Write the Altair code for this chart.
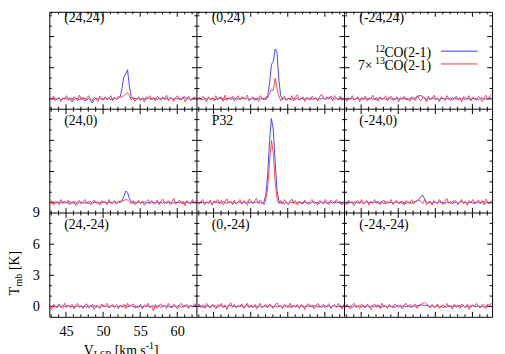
import altair as alt
import pandas as pd

# ---------------- data ----------------
V0 = 42.8     # first channel velocity (km/s)
DV = 0.25     # channel width (km/s)

panel_names = ["(24,24)", "(0,24)", "(-24,24)",
               "(24,0)", "P32", "(-24,0)",
               "(24,-24)", "(0,-24)", "(-24,-24)"]

co12_24_24 = [0.05,-0.08,0.1,0.02,-0.05,0.08,-0.1,0.0,0.06,-0.04,
              0.1,-0.06,0.03,-0.1,0.05,0.0,-0.08,0.07,-0.03,0.04,
              -0.1,0.02,-0.15,-0.4,-0.12,0.05,-0.02,0.08,-0.06,0.03,
              0.1,-0.04,0.06,-0.08,0.02,0.12,-0.03,0.05,0.2,1.0,
              2.1,2.4,2.8,1.2,0.2,-0.05,0.08,-0.06,0.03,-0.1,
              0.05,0.0,-0.07,0.1,-0.04,0.06,-0.02,0.08,-0.1,0.04,
              0.0,0.1,-0.06,0.05,-0.08,0.12,0.03,-0.05,0.07,-0.02,
              0.06,-0.1,0.1,0.2,-0.04,0.08,-0.12,0.05,-0.03,0.06]
co13_24_24 = [0.2,-0.1,0.25,-0.2,0.0,0.15,-0.25,0.1,-0.05,0.3,
              -0.15,0.1,-0.3,0.2,0.05,-0.2,0.35,-0.1,0.15,-0.25,
              0.1,0.3,-0.05,-0.2,0.15,0.0,-0.3,0.25,0.1,-0.15,
              0.2,-0.1,0.05,0.3,-0.2,0.1,-0.05,0.25,0.1,0.2,
              0.3,0.45,0.6,0.3,-0.1,0.15,-0.25,0.05,0.2,-0.15,
              0.1,-0.3,0.2,0.0,0.3,-0.1,0.15,-0.2,0.25,0.05,
              -0.15,0.2,-0.05,0.35,-0.2,0.1,0.0,-0.25,0.15,0.3,
              -0.1,0.05,0.2,-0.3,0.1,0.25,-0.15,0.0,0.2,-0.05]

co12_0_24 = [-0.05,0.08,0.02,-0.1,0.06,-0.03,0.1,-0.07,0.04,0.0,
             -0.08,0.05,0.1,-0.04,0.07,-0.1,0.03,0.06,-0.05,0.02,
             0.08,-0.06,0.04,-0.1,0.05,0.1,-0.03,0.06,-0.08,0.03,
             -0.02,0.07,-0.05,0.1,-0.06,0.04,0.02,-0.08,0.3,1.5,
             3.3,3.6,4.8,4.5,1.8,0.3,-0.05,0.06,-0.1,0.04,
             0.02,-0.07,0.08,-0.03,0.05,-0.1,0.06,0.0,-0.05,0.08,
             -0.04,0.1,-0.06,0.03,0.07,-0.08,0.05,-0.02,0.09,-0.05,
             0.04,0.12,0.25,0.1,-0.04,0.06,-0.08,0.03,0.1,-0.06]
co13_0_24 = [-0.2,0.15,-0.1,0.25,0.0,-0.3,0.2,-0.05,0.1,-0.2,
             0.3,-0.1,0.05,0.2,-0.25,0.35,-0.15,0.1,0.0,0.25,
             -0.2,0.1,0.3,-0.1,0.2,-0.05,0.15,0.35,-0.2,0.05,
             0.2,-0.15,0.1,-0.25,0.3,0.0,-0.1,0.2,0.1,0.5,
             0.9,0.8,2.0,1.0,0.3,-0.2,0.1,0.25,-0.15,0.05,
             -0.1,0.3,-0.2,0.15,0.4,-0.1,0.0,0.2,-0.25,0.1,
             0.05,-0.15,0.25,-0.05,0.1,-0.2,0.2,0.45,0.1,-0.1,
             0.2,-0.05,0.15,-0.2,0.3,0.05,-0.1,0.25,-0.15,0.1]

co12_m24_24 = [0.03,-0.06,0.08,-0.02,0.05,-0.09,0.04,0.07,-0.05,0.02,
               -0.08,0.06,0.0,-0.04,0.1,-0.06,0.03,-0.1,0.05,0.08,
               -0.03,0.06,-0.07,0.02,0.09,-0.05,0.04,-0.08,0.06,0.01,
               -0.06,0.08,-0.02,0.05,-0.1,0.06,0.02,-0.04,0.1,0.2,
               0.3,0.32,0.2,0.08,-0.05,0.06,-0.08,0.03,0.07,-0.04,
               0.05,-0.09,0.02,0.07,-0.06,0.04,-0.02,0.08,-0.07,0.03,
               0.0,-0.05,0.09,-0.03,0.06,-0.08,0.04,0.02,-0.06,0.07,
               -0.02,0.05,-0.09,0.04,0.08,-0.05,0.02,-0.07,0.06,0.1]
co13_m24_24 = [0.15,-0.25,0.1,-0.05,0.3,-0.15,0.05,0.2,-0.3,0.1,
               0.0,0.25,-0.2,0.1,-0.05,0.35,-0.1,0.15,-0.25,0.2,
               -0.1,0.05,0.3,-0.2,0.1,0.25,-0.15,0.0,0.2,-0.3,
               0.15,-0.05,0.25,-0.1,0.05,-0.25,0.2,0.1,-0.15,0.3,
               0.0,-0.2,0.15,0.1,-0.3,0.25,-0.05,0.1,0.35,-0.1,
               0.05,-0.25,0.2,0.0,-0.15,0.3,0.1,-0.2,0.15,-0.05,
               0.25,-0.1,0.05,-0.3,0.2,0.1,-0.05,0.3,-0.2,0.15,
               0.0,-0.15,0.25,0.1,-0.25,0.05,0.35,-0.1,0.2,0.4]

co12_24_0 = [0.06,-0.04,0.09,-0.08,0.02,0.05,-0.06,0.1,-0.03,0.04,
             -0.07,0.08,0.0,-0.05,0.06,-0.1,0.04,0.07,-0.02,-0.06,
             0.05,-0.08,0.1,-0.03,0.02,0.06,-0.09,0.04,-0.05,0.08,
             0.0,-0.06,0.07,0.03,-0.08,0.05,-0.02,0.09,0.1,0.2,
             0.6,1.1,1.0,0.4,0.05,-0.06,0.08,-0.03,0.05,-0.08,
             0.03,0.07,-0.05,0.02,-0.09,0.06,0.04,-0.06,0.08,-0.02,
             0.05,-0.07,0.1,-0.04,0.02,0.06,-0.08,0.03,-0.05,0.09,
             -0.03,0.06,-0.1,0.04,0.07,-0.05,0.02,0.08,-0.06,0.03]
co13_24_0 = [-0.1,0.2,-0.25,0.1,0.05,-0.2,0.3,-0.1,0.15,-0.05,
             0.25,-0.2,0.0,0.15,-0.3,0.1,0.2,-0.15,0.05,0.3,
             -0.1,0.15,-0.2,0.05,0.25,-0.05,0.1,-0.25,0.2,0.0,
             0.1,-0.2,0.3,-0.1,0.05,0.2,-0.15,0.1,0.0,0.15,
             0.2,0.3,0.25,0.1,-0.1,0.2,-0.2,0.05,0.25,-0.1,
             0.15,-0.25,0.1,0.3,-0.05,0.2,-0.15,0.0,0.25,-0.2,
             0.1,0.35,-0.1,0.05,0.2,-0.2,0.1,0.4,-0.15,0.05,
             0.25,-0.1,0.15,-0.3,0.2,0.05,-0.15,0.3,0.0,0.2]

co12_p32 = [0.04,-0.07,0.1,0.02,-0.05,0.08,-0.03,0.06,-0.09,0.03,
            0.07,-0.04,0.05,-0.08,0.1,0.0,-0.06,0.04,0.08,-0.05,
            0.02,-0.1,0.06,0.03,-0.07,0.05,-0.02,0.09,-0.04,0.06,
            -0.08,0.03,0.07,-0.05,0.02,-0.1,0.1,0.8,2.8,6.0,
            8.1,7.0,4.0,1.2,0.2,-0.06,0.05,-0.1,0.03,-0.08,
            0.06,-0.03,0.08,-0.07,0.02,0.05,-0.09,0.04,0.07,-0.05,
            0.03,-0.08,0.06,0.1,-0.04,0.02,-0.06,0.08,-0.03,0.05,
            -0.1,0.07,0.02,-0.05,0.09,-0.04,0.06,-0.08,0.03,0.05]
co13_p32 = [0.2,-0.15,0.1,0.3,-0.2,0.05,-0.1,0.25,-0.25,0.15,
            0.0,0.3,-0.1,0.2,-0.2,0.1,0.35,-0.05,0.15,-0.2,
            0.25,-0.1,0.05,0.3,-0.15,0.2,0.0,-0.25,0.35,0.1,
            -0.1,0.2,0.4,-0.05,0.25,0.1,-0.2,0.3,1.5,4.0,
            6.0,4.8,2.0,0.4,-0.1,0.2,-0.15,0.3,0.05,-0.2,
            0.15,0.35,-0.1,0.2,-0.25,0.1,0.05,-0.15,0.25,0.0,
            -0.2,0.15,0.3,-0.1,0.05,-0.25,0.2,0.1,-0.15,0.3,
            0.0,-0.2,0.25,0.1,-0.1,0.3,-0.05,0.15,-0.25,0.1]

co12_m24_0 = [-0.04,0.07,-0.02,0.05,-0.09,0.03,0.08,-0.06,0.02,0.06,
              -0.08,0.04,0.1,-0.03,0.05,-0.07,0.02,0.09,-0.05,0.03,
              0.06,-0.1,0.04,0.07,-0.03,0.05,-0.08,0.02,0.06,-0.04,
              0.08,-0.05,0.03,-0.09,0.06,0.02,-0.06,0.1,0.05,0.15,
              0.35,0.6,0.7,0.35,0.1,-0.05,0.06,-0.08,0.04,0.02,
              -0.06,0.08,-0.03,0.05,-0.1,0.07,0.02,-0.05,0.09,-0.02,
              0.04,-0.07,0.06,0.1,-0.04,0.03,-0.08,0.05,0.0,-0.06,
              0.07,-0.03,0.05,-0.09,0.04,0.08,-0.05,0.02,-0.07,0.06]
co13_m24_0 = [0.1,-0.2,0.25,-0.05,0.15,-0.3,0.05,0.2,-0.1,0.3,
              -0.15,0.05,0.2,-0.25,0.1,0.0,0.3,-0.1,0.15,-0.2,
              0.05,0.25,-0.15,0.1,-0.05,0.3,-0.2,0.1,0.2,-0.1,
              0.0,0.15,-0.25,0.2,0.05,-0.1,0.3,-0.15,0.1,0.2,
              0.25,0.1,-0.1,0.3,-0.2,0.05,0.15,-0.25,0.2,0.0,
              -0.1,0.3,0.05,-0.2,0.15,0.4,-0.05,0.1,-0.15,0.25,
              0.1,-0.2,0.05,0.3,-0.1,0.15,-0.25,0.2,0.0,0.3,
              -0.15,0.1,0.25,-0.05,0.2,-0.2,0.35,0.05,-0.1,0.2]

co12_24_m24 = [0.08,-0.03,0.06,-0.08,0.02,0.05,-0.06,0.1,-0.04,0.03,
               0.07,-0.09,0.04,0.0,-0.05,0.08,-0.02,0.06,-0.07,0.05,
               -0.1,0.03,0.06,-0.04,0.09,-0.06,0.02,-0.08,0.05,0.07,
               -0.03,0.04,-0.07,0.08,0.02,-0.05,0.1,-0.02,0.06,-0.08,
               0.03,0.07,-0.05,0.02,0.09,-0.04,0.06,-0.1,0.05,0.0,
               -0.06,0.08,-0.03,0.05,-0.09,0.04,0.07,-0.05,0.02,0.06,
               -0.08,0.03,0.1,-0.04,0.05,-0.07,0.02,0.08,-0.06,0.04,
               0.06,-0.1,0.03,0.07,-0.05,0.02,0.09,-0.03,0.05,0.12]
co13_24_m24 = [0.1,-0.3,0.2,0.05,-0.15,0.25,0.0,-0.2,0.3,-0.1,
               0.15,-0.05,0.2,-0.25,0.1,0.3,-0.1,0.05,-0.2,0.15,
               0.25,-0.15,0.0,0.2,-0.3,0.1,0.05,-0.2,0.25,-0.05,
               0.1,0.3,-0.15,0.05,0.2,-0.1,0.15,-0.25,0.1,0.0,
               0.2,-0.2,0.3,-0.05,0.1,0.25,-0.15,0.05,-0.1,0.2,
               -0.25,0.15,0.0,0.3,-0.1,0.05,-0.45,0.2,-0.15,0.1,
               0.25,-0.05,0.1,-0.2,0.3,0.0,-0.15,0.2,0.05,-0.25,
               0.15,0.3,-0.1,0.05,0.2,-0.2,0.1,-0.05,0.25,0.1]

co12_0_m24 = [-0.05,0.07,0.02,-0.08,0.05,-0.03,0.09,-0.06,0.04,0.01,
              0.06,-0.1,0.03,0.07,-0.05,0.02,-0.08,0.06,0.09,-0.04,
              0.03,-0.07,0.05,-0.02,0.08,-0.06,0.04,0.1,-0.05,0.02,
              -0.09,0.06,0.03,-0.04,0.07,-0.08,0.05,0.0,-0.06,0.08,
              0.04,-0.03,0.1,-0.07,0.02,0.06,-0.05,0.08,-0.02,0.05,
              -0.08,0.03,0.07,-0.06,0.04,-0.1,0.06,0.02,-0.04,0.09,
              -0.03,0.05,-0.07,0.08,0.01,-0.05,0.06,-0.09,0.04,0.07,
              -0.02,0.06,-0.08,0.03,0.1,-0.05,0.02,0.07,-0.06,0.04]
co13_0_m24 = [0.05,0.25,-0.1,0.15,-0.2,0.3,0.0,-0.15,0.2,0.1,
              -0.25,0.2,0.05,0.3,-0.1,0.15,-0.3,0.1,0.35,-0.05,
              0.2,-0.15,0.1,0.0,0.25,-0.2,0.05,0.3,-0.1,0.15,
              -0.05,0.2,-0.25,0.1,0.3,-0.15,0.05,0.2,-0.1,0.25,
              0.0,-0.2,0.15,0.35,-0.05,0.1,-0.25,0.2,0.05,-0.1,
              0.3,-0.15,0.1,0.0,0.2,-0.2,0.15,0.05,-0.3,0.1,
              0.25,-0.05,0.15,-0.2,0.1,0.3,-0.1,0.05,0.2,-0.15,
              0.1,0.25,-0.2,0.05,0.15,-0.1,0.3,0.0,-0.25,0.2]

co12_m24_m24 = [0.02,0.08,-0.05,0.04,-0.09,0.06,0.03,-0.04,0.07,-0.06,
                0.05,-0.02,0.09,-0.07,0.03,0.06,-0.05,0.1,-0.03,0.04,
                -0.08,0.05,0.02,-0.06,0.08,-0.03,0.06,-0.1,0.04,0.07,
                -0.04,0.02,0.09,-0.06,0.05,-0.08,0.03,0.07,-0.02,0.05,
                0.1,0.15,0.12,0.08,0.1,0.05,-0.03,0.06,-0.08,0.04,
                0.07,-0.05,0.02,-0.12,0.05,-0.1,0.08,-0.04,0.03,0.06,
                -0.07,0.04,0.09,-0.03,0.06,-0.08,0.02,0.05,-0.06,0.08,
                0.03,-0.05,0.07,-0.02,0.04,-0.09,0.06,0.02,-0.04,0.08]
co13_m24_m24 = [-0.15,0.2,0.05,-0.25,0.15,0.3,-0.1,0.1,-0.2,0.25,
                0.0,-0.15,0.2,0.1,-0.3,0.05,0.25,-0.1,0.15,-0.2,
                0.3,-0.05,0.1,-0.2,0.2,0.0,-0.15,0.25,0.05,-0.1,
                0.15,-0.25,0.1,0.3,-0.05,0.2,-0.1,0.05,0.25,-0.2,
                0.1,0.2,0.3,0.4,0.25,0.1,-0.15,0.2,0.0,-0.1,
                0.25,-0.2,0.05,0.15,-0.1,0.3,-0.05,0.1,-0.25,0.2,
                0.0,0.15,-0.2,0.25,0.05,-0.1,0.2,-0.3,0.1,0.15,
                -0.05,0.3,0.0,-0.15,0.2,0.1,-0.2,0.25,0.05,0.35]

co12_spectra = [co12_24_24, co12_0_24, co12_m24_24,
                co12_24_0, co12_p32, co12_m24_0,
                co12_24_m24, co12_0_m24, co12_m24_m24]
co13_spectra = [co13_24_24, co13_0_24, co13_m24_24,
                co13_24_0, co13_p32, co13_m24_0,
                co13_24_m24, co13_0_m24, co13_m24_m24]

x_tick_labels = [45, 50, 55, 60]
y_tick_labels = [0, 3, 6, 9]

# ---------------- layout constants ----------------
X0, W = 42.75, 19.9          # velocity range of one panel
Y0, RH = -1.0, 10.0          # T range of one panel: [-1, 9]
PW, PH = 450, 310            # plot area in px
PX = PW / (3 * W)            # px per km/s
PY = 10.55                   # px per K
TOP = Y0 + PH / PY           # top row is slightly cut
FONT = "Liberation Serif"
BLUE, RED = "#3333ff", "#ff3333"

# ---------------- build tables ----------------
rows = []
for p in range(9):
    r, c = divmod(p, 3)
    for i, (a, b) in enumerate(zip(co12_spectra[p], co13_spectra[p])):
        v = V0 + DV * i
        rows.append({"panel": p, "gx": v + c * W, "vel": v,
                     "b": a + (2 - r) * RH, "rr": b + (2 - r) * RH})
spec = pd.DataFrame(rows)

segs = []
for k in (1, 2):
    segs.append({"x": X0 + k * W, "x2": X0 + k * W, "y": Y0, "y2": TOP})
for yb in (Y0 + RH, Y0 + 2 * RH):
    segs.append({"x": X0, "x2": X0 + 3 * W, "y": yb, "y2": yb})
hb = [(Y0, False, True), (Y0 + RH, True, True), (Y0 + 2 * RH, True, True), (TOP, True, False)]
for yb, down, up in hb:
    for c in range(3):
        for v in range(43, 63):
            L = (5.0 if v % 5 == 0 else 2.5) / PY
            segs.append({"x": v + c * W, "x2": v + c * W,
                         "y": yb - (L if down else 0), "y2": yb + (L if up else 0)})
for k in range(4):
    xb = X0 + k * W
    left, right = k > 0, k < 3
    for r in range(3):
        off = (2 - r) * RH
        for t in range(0, 9):
            yy = t + off
            if yy > TOP:
                continue
            L = (5.0 if t % 3 == 0 else 2.5) / PX
            segs.append({"x": xb - (L if left else 0), "x2": xb + (L if right else 0),
                         "y": yy, "y2": yy})
segdf = pd.DataFrame(segs)

labdf = pd.DataFrame([{"x": X0 + 2.0 + (p % 3) * W,
                       "y": (2 - p // 3) * RH + 9 - 1.55,
                       "t": panel_names[p]} for p in range(9)])

xs = alt.Scale(domain=[X0, X0 + 3 * W], nice=False, zero=False)
ys = alt.Scale(domain=[Y0, TOP], nice=False, zero=False)

xaxis = alt.Axis(values=x_tick_labels, title=None, grid=False, domain=False,
                 ticks=False, tickSize=0, labelPadding=8, labelFont=FONT,
                 labelFontSize=14.5, labelColor="black", labelFlush=False)
yaxis = alt.Axis(values=y_tick_labels, title=None, grid=False, domain=False,
                 ticks=False, tickSize=0, labelPadding=10, labelFont=FONT,
                 labelFontSize=14.5, labelColor="black", labelFlush=False)

frame = alt.Chart(segdf).mark_rule(color="black", strokeWidth=1).encode(
    x=alt.X("x:Q", scale=xs, axis=xaxis),
    x2="x2:Q",
    y=alt.Y("y:Q", scale=ys, axis=yaxis),
    y2="y2:Q",
)

blue = alt.Chart(spec).mark_line(color=BLUE, strokeWidth=0.9).encode(
    x=alt.X("gx:Q", scale=xs, axis=xaxis),
    y=alt.Y("b:Q", scale=ys, axis=yaxis),
    detail="panel:N",
)
red = alt.Chart(spec).mark_line(color=RED, strokeWidth=0.9).encode(
    x=alt.X("gx:Q", scale=xs, axis=xaxis),
    y=alt.Y("rr:Q", scale=ys, axis=yaxis),
    detail="panel:N",
)

plabels = alt.Chart(labdf).mark_text(align="left", baseline="alphabetic", font=FONT,
                                     fontSize=14, color="black").encode(
    x=alt.X("x:Q", scale=xs, axis=xaxis),
    y=alt.Y("y:Q", scale=ys, axis=yaxis),
    text="t:N",
)


def txt(s, x, y, size=14, align="left", angle=0):
    return alt.Chart(pd.DataFrame({"t": [s]})).mark_text(
        align=align, baseline="alphabetic", font=FONT, fontSize=size,
        color="black", angle=angle).encode(
        x=alt.value(x), y=alt.value(y), text="t:N")


def seg(x1, x2, y, color):
    return alt.Chart(pd.DataFrame({"k": [0]})).mark_rule(color=color, strokeWidth=1).encode(
        x=alt.value(x1), x2=alt.value(x2), y=alt.value(y))


legend = [
    txt("CO(2-1)", 388, 46, align="right"),
    txt("12", 341, 40.5, size=10, align="right"),
    seg(398, 435, 40, BLUE),
    txt("CO(2-1)", 388, 59, align="right"),
    txt("13", 341, 53.5, size=10, align="right"),
    txt("7×", 328.5, 59, align="right"),
    seg(398, 435, 53, RED),
]

titles = [
    txt("T", -31, 288, angle=270),
    txt("mb", -28, 279.2, size=10, angle=270),
    txt("[K]", -31, 262.5, angle=270),
    txt("V", 35, 348.5),
    txt("LSR", 45.1, 351.5, size=10),
    txt("[km s", 66.5, 348.5),
    txt("-1", 98, 342.5, size=10),
    txt("]", 106.5, 348.5),
]

chart = alt.layer(frame, blue, red, plabels, *legend, *titles).properties(
    width=PW, height=PH,
    autosize=alt.AutoSizeParams(type="none"),
    padding={"left": 42, "top": 1, "right": 5, "bottom": 40},
).configure_view(stroke="black", strokeWidth=1)

chart.save("out.html", embed_options={"renderer": "svg", "actions": False})
